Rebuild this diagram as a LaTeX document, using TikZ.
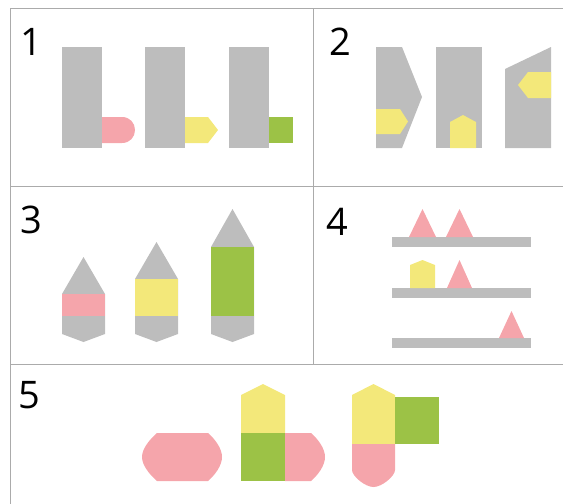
\documentclass[tikz,border=0pt]{standalone}
\usepackage{fontspec}
\setmainfont{Open Sans}
\definecolor{gry}{HTML}{BDBDBD}
\definecolor{pnk}{HTML}{F5A5AB}
\definecolor{yel}{HTML}{F3E87A}
\definecolor{grn}{HTML}{9CC246}
\definecolor{frm}{HTML}{ABABAB}
\tikzset{
  gr/.style={fill=gry,draw=none},
  pk/.style={fill=pnk,draw=none},
  yl/.style={fill=yel,draw=none},
  gn/.style={fill=grn,draw=none},
  frame/.style={draw=frm,line width=1pt},
  num/.style={anchor=base west,inner sep=0pt,font=\fontsize{38}{38}\selectfont}
}
\begin{document}
\begin{tikzpicture}[x=1pt,y=-1pt]
\useasboundingbox (0,0) rectangle (563,504);
% frame
\draw[frame] (10,504) -- (10,8) -- (563,8);
\draw[frame] (10,186) -- (563,186);
\draw[frame] (10,364) -- (563,364);
\draw[frame] (313,8) -- (313,364);
% labels
\node[num] (n1) at (20,55) {1};
\node[num] (n2) at (329,55) {2};
\node[num] (n3) at (20,233) {3};
\node[num] (n4) at (326,235) {4};
\node[num] (n5) at (18,408) {5};
% panel 1
\fill[gr] (62,47) rectangle (102,148);
\fill[pk] (102,117) -- (122,117) .. controls (130,117) and (135,123) .. (135,130) .. controls (135,137) and (130,143) .. (122,143) -- (102,143) -- cycle;
\fill[gr] (145,47) rectangle (185,148);
\fill[yl] (185,117) -- (208,117) -- (218,130) -- (208,143) -- (185,143) -- cycle;
\fill[gr] (229,47) rectangle (269,148);
\fill[gn] (269,117) rectangle (293,143);
% panel 2
\fill[gr] (376,47) -- (402,47) -- (422,97) -- (402,148) -- (376,148) -- cycle;
\fill[yl] (376,109) -- (400,109) -- (408,121.5) -- (400,134) -- (376,134) -- cycle;
\fill[gr] (436,47) rectangle (482,148);
\fill[yl] (450,148) -- (450,122) -- (463,115) -- (476,122) -- (476,148) -- cycle;
\fill[gr] (505,69) -- (551,47) -- (551,148) -- (505,148) -- cycle;
\fill[yl] (551,72) -- (528,72) -- (518,85) -- (528,98) -- (551,98) -- cycle;
% panel 3
\fill[gr] (62,294) -- (83.5,257) -- (105,294) -- (105,334) -- (83.5,342) -- (62,334) -- cycle;
\fill[pk] (62,294) rectangle (105,316);
\fill[gr] (135,279) -- (156.5,242) -- (178,279) -- (178,334) -- (156.5,342) -- (135,334) -- cycle;
\fill[yl] (135,279) rectangle (178,316);
\fill[gr] (211,247) -- (232.5,209) -- (254,247) -- (254,334) -- (232.5,342) -- (211,334) -- cycle;
\fill[gn] (211,247) rectangle (254,316);
% panel 4
\fill[gr] (392,237) rectangle (531,247);
\fill[gr] (392,288) rectangle (531,298);
\fill[gr] (392,338) rectangle (531,348);
\fill[pk] (409,237) -- (422.5,209) -- (436,237) -- cycle;
\fill[pk] (446,237) -- (459.5,209) -- (473,237) -- cycle;
\fill[yl] (410,288) -- (410,265) -- (422.5,260) -- (435,265) -- (435,288) -- cycle;
\fill[pk] (447,288) -- (459.5,260) -- (472,288) -- cycle;
\fill[pk] (499,338) -- (511.5,311) -- (524,338) -- cycle;
% panel 5
\fill[pk] (157,433) -- (208,433) .. controls (216,440) and (222,449) .. (222,457) .. controls (222,465) and (216,474) .. (208,481) -- (157,481) .. controls (149,474) and (142,465) .. (142,457) .. controls (142,449) and (149,440) .. (157,433) -- cycle;
\fill[yl] (241,433) -- (241,395) -- (263,384) -- (285,395) -- (285,433) -- cycle;
\fill[gn] (241,433) rectangle (285,481);
\fill[pk] (285,433) -- (311,433) .. controls (319,440) and (325,449) .. (325,457) .. controls (325,465) and (319,474) .. (311,481) -- (285,481) -- cycle;
\fill[yl] (352,444) -- (352,395) -- (373.5,384) -- (395,395) -- (395,444) -- cycle;
\fill[gn] (395,397) rectangle (439,444);
\fill[pk] (352,444) -- (395,444) -- (395,470) .. controls (395,476) and (382,487) .. (373.5,487) .. controls (365,487) and (352,476) .. (352,470) -- cycle;
\end{tikzpicture}
\end{document}
